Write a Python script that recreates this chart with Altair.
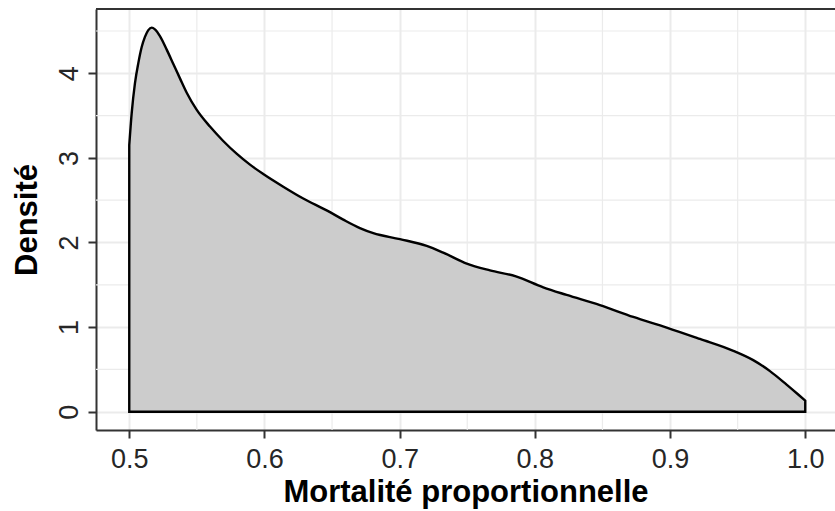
import altair as alt
import pandas as pd

# Density curve
x_vals = [0.5, 0.5018, 0.5042, 0.5067, 0.5092, 0.5116, 0.5141, 0.5166, 0.519, 0.5227,
          0.5277, 0.5326, 0.5375, 0.5425, 0.5498, 0.5597, 0.5695, 0.5794, 0.5893, 0.5991,
          0.6139, 0.6287, 0.646, 0.6583, 0.6706, 0.6805, 0.7002, 0.72, 0.7322, 0.7496,
          0.7668, 0.786, 0.8062, 0.8235, 0.8481, 0.8728, 0.8975, 0.9221, 0.9468, 0.9615,
          0.9739, 0.9862, 0.995, 1.0]
y_vals = [3.15, 3.53, 3.88, 4.12, 4.31, 4.43, 4.51, 4.54, 4.52, 4.44,
          4.28, 4.11, 3.94, 3.77, 3.57, 3.37, 3.20, 3.05, 2.92, 2.81,
          2.66, 2.52, 2.38, 2.27, 2.17, 2.11, 2.04, 1.96, 1.88, 1.75,
          1.67, 1.60, 1.47, 1.38, 1.26, 1.12, 0.995, 0.86, 0.72, 0.61,
          0.48, 0.32, 0.20, 0.13]

x_major = [0.5, 0.6, 0.7, 0.8, 0.9, 1.0]
x_minor = [0.55, 0.65, 0.75, 0.85, 0.95]
y_major = [0, 1, 2, 3, 4]
y_minor = [0.5, 1.5, 2.5, 3.5, 4.5]

x_title = "Mortalité proportionnelle"
y_title = "Densité"

X_DOMAIN = [0.4754, 1.022]
Y_DOMAIN = [-0.2163, 4.760]
W, H = 739, 421
FONT = "Liberation Sans"

dens = pd.DataFrame({"x": x_vals, "y": y_vals})
xs = alt.Scale(domain=X_DOMAIN, nice=False, zero=False)
ys = alt.Scale(domain=Y_DOMAIN, nice=False, zero=False)

x_axis = alt.Axis(values=x_major, format=".1f", grid=True, gridColor="#EBEBEB",
                  gridWidth=2, tickSize=8, tickWidth=2, tickColor="#333333",
                  domain=True, domainColor="#333333", domainWidth=2,
                  labelFont=FONT, labelFontSize=27, labelColor="#262626",
                  labelPadding=8, labelBaseline="top", labelFlush=False,
                  titleFont=FONT, titleFontSize=31, titleFontWeight="bold",
                  titleColor="black", titleBaseline="alphabetic", titleY=71)
y_axis = alt.Axis(values=y_major, format="d", grid=True, gridColor="#EBEBEB",
                  gridWidth=2, tickSize=8, tickWidth=2, tickColor="#333333",
                  domain=True, domainColor="#333333", domainWidth=2,
                  labelFont=FONT, labelFontSize=27, labelColor="#262626",
                  labelAngle=270, labelAlign="center", labelBaseline="alphabetic",
                  labelPadding=11, labelFlush=False,
                  titleFont=FONT, titleFontSize=31, titleFontWeight="bold",
                  titleColor="black", titleAngle=270, titleBaseline="alphabetic",
                  titleX=-60, titleY=H / 2, titleAlign="center")

xgrid_minor = alt.Chart(pd.DataFrame({"v": x_minor})).mark_rule(
    color="#EBEBEB", strokeWidth=1.2
).encode(x=alt.X("v:Q", scale=xs, title=x_title, axis=x_axis))
ygrid_minor = alt.Chart(pd.DataFrame({"v": y_minor})).mark_rule(
    color="#EBEBEB", strokeWidth=1.2
).encode(y=alt.Y("v:Q", scale=ys, title=y_title, axis=y_axis))

area = alt.Chart(dens).mark_area(
    fill="#CCCCCC", stroke="black", strokeWidth=2.4, interpolate="monotone", clip=True
).encode(
    x=alt.X("x:Q", scale=xs, title=x_title, axis=x_axis),
    y=alt.Y("y:Q", scale=ys, title=y_title, axis=y_axis),
)

top_border = alt.Chart(pd.DataFrame({"v": [Y_DOMAIN[1]]})).mark_rule(
    color="#333333", strokeWidth=2
).encode(y=alt.Y("v:Q", scale=ys, title=y_title, axis=y_axis))

chart = alt.layer(xgrid_minor, ygrid_minor, area, top_border).properties(
    width=W, height=H,
    autosize=alt.AutoSizeParams(type="none"),
    padding={"left": 96, "top": 9, "right": 0, "bottom": 81},
).configure_view(stroke=None).configure(background="white")

chart.save("out.html", embed_options={"renderer": "svg", "actions": False})
